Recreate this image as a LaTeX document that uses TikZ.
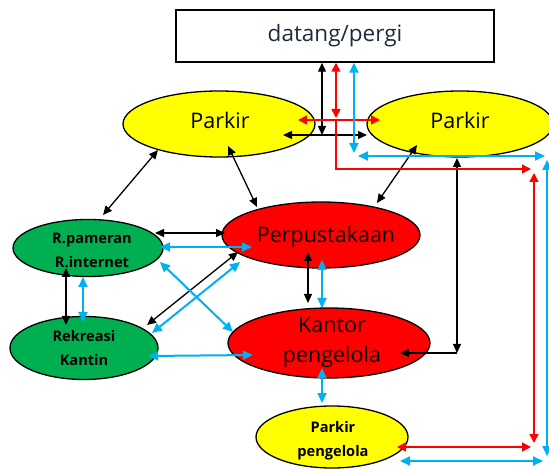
\documentclass[tikz,border=0pt]{standalone}
\usepackage{fontspec}
\setmainfont{Open Sans}
\usetikzlibrary{shapes.geometric,arrows.meta,calc}

\definecolor{fillyellow}{HTML}{FFFF00}
\definecolor{fillred}{HTML}{FF0000}
\definecolor{fillgreen}{HTML}{00B050}
\definecolor{linkblue}{HTML}{00B0F0}
\definecolor{linkred}{HTML}{FF0000}
\definecolor{titleink}{HTML}{1E2A3C}

\begin{document}
\begin{tikzpicture}[x=1pt,y=-1pt,
  area/.style={ellipse, draw=black, line width=1.3pt, inner sep=0pt, outer sep=0pt},
  bigtext/.style={font=\fontsize{21.5pt}{30pt}\selectfont, align=center, inner sep=0pt},
  smalltext/.style={font=\fontsize{14.6pt}{24pt}\selectfont\bfseries, align=center, inner sep=0pt},
  blk/.style={draw=black, line width=1.3pt, >={Triangle[length=9pt,width=8pt]}},
  rd/.style={draw=linkred, line width=1.6pt, >={Triangle[length=9pt,width=9pt]}},
  cy/.style={draw=linkblue, line width=2pt, >={Triangle[length=10pt,width=9pt]}}
]
\useasboundingbox (0,0) rectangle (549,470);
\clip (0,0) rectangle (549,470);

% areas
\node[rectangle, draw=black, line width=1.5pt, minimum width=318pt, minimum height=52pt,
      inner sep=0pt, font=\fontsize{22.5pt}{26pt}\selectfont, text=titleink] (dp) at (335,36) {datang/pergi};
\node[area, fill=fillyellow, minimum width=192pt, minimum height=66pt] (pkL) at (219,124) {};
\node[area, fill=fillyellow, minimum width=186pt, minimum height=66pt] (pkR) at (460,124) {};
\node[area, fill=fillgreen, minimum width=150pt, minimum height=57pt] (pam) at (88,248) {};
\node[area, fill=fillgreen, minimum width=148pt, minimum height=63pt] (rek) at (84,348) {};
\node[area, fill=fillred, minimum width=198pt, minimum height=66pt] (perp) at (321,235) {};
\node[area, fill=fillred, minimum width=202pt, minimum height=70pt] (kan) at (329,343) {};
\node[area, fill=fillyellow, minimum width=152pt, minimum height=62pt] (pkP) at (332,437) {};

% junctions and corners
\coordinate (jb) at (322,135);
\coordinate (jr) at (336,120);
\coordinate (jc) at (354,156);
\coordinate (kc) at (457,353);
\coordinate (rc) at (531,169);
\coordinate (rv) at (534,173);
\coordinate (rw) at (534,443);
\coordinate (rp) at (531,447);
\coordinate (ch) at (545,156);
\coordinate (cv) at (547,160);
\coordinate (cw) at (547,456);
\coordinate (cp) at (543,461);

% black links
\draw[blk,<->] (jb |- dp.south) -- (jb);
\draw[blk,<->] ($(pkL)+(64,11)$) -- ($(pkR)+(-93,11)$);
\draw[blk,<->] ($(pkL)+(-61,26)$) -- ($(pam)+(15,-33)$);
\draw[blk,<->] ($(pkL)+(9,22)$) -- ($(perp)+(-64,-28)$);
\draw[blk,<->] ($(pkR)+(-43,21)$) -- ($(perp)+(56,-32)$);
\draw[blk,<->] ($(pam)+(67,-15)$) -- ($(perp)+(-96,-2)$);
\draw[blk,<->] ($(rek)+(63,-23)$) -- ($(perp)+(-83,17)$);
\draw[blk,<->] ($(pam)+(-22,20)$) -- ($(rek)+(-18,-23)$);
\draw[blk,<->] ($(perp)+(-13,17)$) -- ($(kan)+(-21,-40)$);
\draw[blk,<->] ($(pkR)+(-3,34)$) -- (kc);
\draw[blk,->] (kc) -- ($(kan)+(71,10)$);

% red links
\draw[rd,<->] (jr |- dp.south) -- ($(jr)+(0,-2)$);
\draw[rd,<->] ($(pkL)+(79,-4)$) -- ($(pkR)+(-80,-4)$);
\draw[rd,->] (jr) -- (jr |- rc) -- (rc);
\draw[rd,<->] (rv) -- (rw);
\draw[rd,<->] ($(pkP)+(65,10)$) -- (rp);

% blue links
\draw[cy,<->] (jc |- dp.south) -- ($(jc)+(0,-3)$);
\draw[cy,<->] ($(jc)+(4,0)$) -- (ch);
\draw[cy,<->] (cv) -- (cw);
\draw[cy,<->] ($(pkP)+(68,24)$) -- (cp);
\draw[cy,<->] ($(pam)+(-5,29)$) -- ($(rek)+(-1,-26)$);
\draw[cy,<->] ($(pam)+(72,-1)$) -- ($(perp)+(-69,12)$);
\draw[cy,<->] ($(pam)+(72,14)$) -- ($(kan)+(-96,-11)$);
\draw[cy,<->] ($(rek)+(68,-15)$) -- ($(perp)+(-81,27)$);
\draw[cy,<->] ($(rek)+(64,8)$) -- ($(kan)+(-76,12)$);
\draw[cy,<->] ($(perp)+(1,25)$) -- ($(kan)+(-7,-35)$);
\draw[cy,<->] ($(kan)+(-7,25)$) -- ($(pkP)+(-10,-34)$);

% labels
\node[bigtext] (pkLt) at (220,120) {Parkir};
\node[bigtext] (pkRt) at (460,120) {Parkir};
\node[bigtext] (perpt) at (326,237) {Perpustakaan};
\node[bigtext] (kant) at (332,342) {Kantor\\pengelola};
\node[smalltext] (pamt) at (92,250) {R.pameran\\R.internet};
\node[smalltext] (rekt) at (84,348) {Rekreasi\\Kantin};
\node[smalltext] (pkPt) at (333,441) {Parkir\\pengelola};
\end{tikzpicture}
\end{document}
